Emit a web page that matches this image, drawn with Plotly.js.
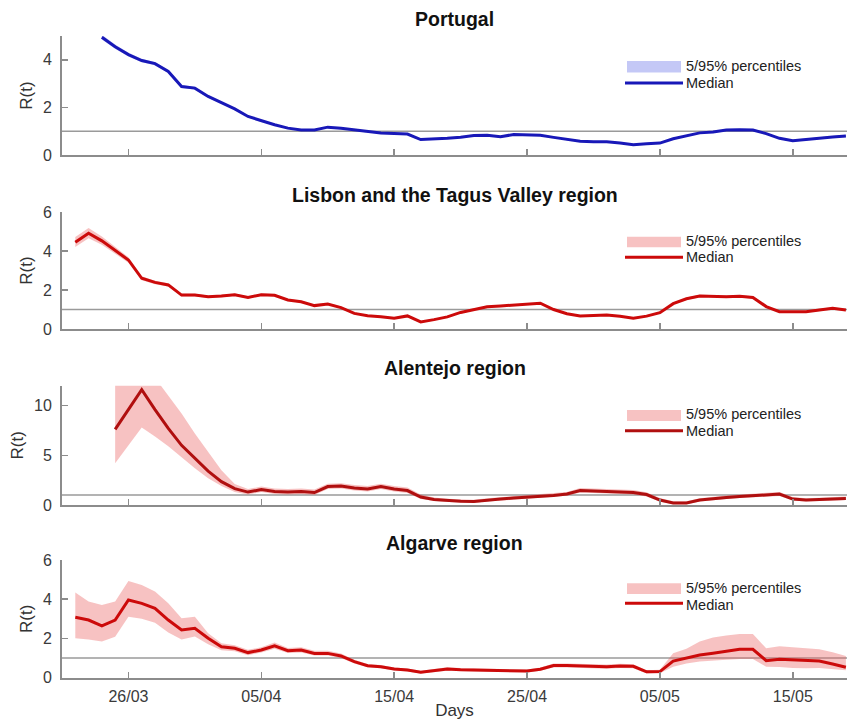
<!DOCTYPE html>
<html><head><meta charset="utf-8">
<script src="https://cdn.plot.ly/plotly-3.0.1.min.js"></script>
<style>html,body{margin:0;padding:0;background:#fff}#chart{width:847px;height:720px}</style>
</head><body><div id="chart"></div>
<script>
// ---------- data ----------
const regionNames = ['Portugal', 'Lisbon and the Tagus Valley region', 'Alentejo region', 'Algarve region'];
const legendLabels = ['5/95% percentiles', 'Median'];
const xTickStart = '2020-03-26';
const startDates = ['2020-03-24', '2020-03-22', '2020-03-25', '2020-03-22'];

const ptMedian = [4.95,4.55,4.22,3.97,3.84,3.51,2.88,2.81,2.46,2.19,1.94,1.62,1.43,1.27,1.13,1.05,1.05,1.17,1.12,1.05,0.98,0.92,0.90,0.88,0.65,0.66,0.70,0.75,0.82,0.83,0.77,0.86,0.85,0.83,0.74,0.66,0.58,0.56,0.56,0.50,0.43,0.47,0.50,0.68,0.82,0.93,0.97,1.05,1.06,1.05,0.90,0.70,0.60,0.66,0.73,0.76,0.80];
const ptLower = [4.85,4.46,4.14,3.90,3.77,3.45,2.82,2.75,2.41,2.14,1.90,1.58,1.39,1.24,1.10,1.02,1.02,1.14,1.09,1.02,0.95,0.89,0.87,0.85,0.62,0.63,0.67,0.72,0.79,0.80,0.74,0.83,0.82,0.80,0.71,0.63,0.55,0.53,0.53,0.47,0.40,0.44,0.47,0.65,0.79,0.90,0.94,1.01,1.02,1.01,0.86,0.66,0.56,0.62,0.69,0.72,0.75];
const ptUpper = [5.05,4.64,4.30,4.04,3.91,3.57,2.94,2.87,2.51,2.24,1.98,1.66,1.47,1.30,1.16,1.08,1.08,1.20,1.15,1.08,1.01,0.95,0.93,0.91,0.68,0.69,0.73,0.78,0.85,0.86,0.80,0.89,0.88,0.86,0.77,0.69,0.61,0.59,0.59,0.53,0.46,0.50,0.53,0.71,0.85,0.96,1.00,1.09,1.10,1.09,0.94,0.74,0.64,0.70,0.77,0.80,0.85];

const lxMedian = [4.45,4.91,4.52,4.05,3.54,2.60,2.39,2.26,1.74,1.74,1.66,1.69,1.76,1.62,1.76,1.73,1.49,1.40,1.20,1.28,1.10,0.80,0.68,0.63,0.55,0.67,0.36,0.48,0.62,0.85,1.00,1.14,1.18,1.23,1.28,1.32,1.00,0.78,0.67,0.70,0.72,0.65,0.55,0.66,0.84,1.30,1.55,1.69,1.67,1.66,1.68,1.62,1.15,0.89,0.88,0.89,0.98,1.06,0.97];
const lxLower = [4.20,4.65,4.32,3.88,3.40,2.50,2.30,2.18,1.67,1.67,1.60,1.63,1.70,1.56,1.70,1.67,1.44,1.35,1.15,1.23,1.05,0.76,0.64,0.59,0.51,0.63,0.32,0.44,0.58,0.81,0.96,1.10,1.14,1.19,1.24,1.28,0.96,0.74,0.63,0.66,0.68,0.61,0.51,0.62,0.79,1.24,1.49,1.63,1.61,1.60,1.62,1.56,1.10,0.84,0.83,0.84,0.92,1.00,0.91];
const lxUpper = [4.72,5.18,4.74,4.22,3.68,2.70,2.48,2.34,1.81,1.81,1.72,1.75,1.82,1.68,1.82,1.79,1.54,1.45,1.25,1.33,1.15,0.84,0.72,0.67,0.59,0.71,0.40,0.52,0.66,0.89,1.04,1.18,1.22,1.27,1.32,1.36,1.04,0.82,0.71,0.74,0.76,0.69,0.59,0.70,0.89,1.36,1.61,1.75,1.73,1.72,1.74,1.68,1.20,0.94,0.93,0.94,1.04,1.12,1.03];

const alMedian = [7.6,9.6,11.6,9.6,7.7,6.0,4.7,3.4,2.35,1.65,1.3,1.55,1.35,1.3,1.35,1.25,1.85,1.9,1.7,1.6,1.85,1.6,1.45,0.8,0.55,0.45,0.38,0.35,0.5,0.6,0.7,0.78,0.85,0.95,1.1,1.45,1.4,1.35,1.3,1.25,1.05,0.5,0.2,0.2,0.5,0.65,0.75,0.85,0.95,1.05,1.1,0.6,0.5,0.55,0.6,0.65];
const alLower = [4.2,6.0,7.8,6.9,5.9,4.8,3.7,2.7,1.9,1.3,1.05,1.3,1.1,1.05,1.1,1.0,1.6,1.65,1.45,1.35,1.6,1.35,1.2,0.6,0.4,0.3,0.25,0.22,0.35,0.45,0.55,0.62,0.68,0.78,0.92,1.25,1.2,1.15,1.1,1.05,0.85,0.35,0.08,0.08,0.35,0.5,0.6,0.7,0.78,0.88,0.9,0.45,0.35,0.4,0.45,0.5];
const alUpper = [13.5,15.0,16.5,12.8,11.0,9.2,7.2,5.3,3.5,2.1,1.6,1.85,1.65,1.6,1.65,1.55,2.15,2.2,2.0,1.9,2.15,1.9,1.75,1.05,0.75,0.62,0.55,0.52,0.68,0.78,0.88,0.97,1.05,1.15,1.32,1.7,1.65,1.6,1.55,1.5,1.28,0.7,0.38,0.38,0.68,0.85,0.95,1.05,1.15,1.25,1.32,0.8,0.68,0.72,0.78,0.85];

const agMedian = [3.08,2.94,2.64,2.94,3.96,3.79,3.54,2.94,2.43,2.52,2.01,1.58,1.50,1.28,1.41,1.63,1.38,1.41,1.24,1.24,1.11,0.82,0.61,0.56,0.44,0.39,0.28,0.35,0.44,0.41,0.39,0.37,0.36,0.35,0.34,0.43,0.62,0.62,0.60,0.58,0.56,0.60,0.58,0.30,0.31,0.85,0.99,1.16,1.25,1.35,1.45,1.45,0.87,0.94,0.91,0.90,0.85,0.70,0.53];
const agLower = [2.01,1.95,1.85,2.09,3.11,3.00,2.80,2.30,1.95,2.10,1.70,1.40,1.35,1.15,1.28,1.48,1.26,1.29,1.13,1.13,1.01,0.73,0.53,0.48,0.37,0.32,0.22,0.28,0.36,0.34,0.32,0.30,0.29,0.28,0.27,0.35,0.52,0.52,0.50,0.48,0.46,0.50,0.48,0.22,0.23,0.56,0.73,0.82,0.88,0.92,0.95,0.95,0.56,0.55,0.50,0.48,0.50,0.45,0.38];
const agUpper = [4.34,3.88,3.71,3.88,4.93,4.73,4.39,3.80,3.03,3.11,2.27,1.75,1.65,1.42,1.55,1.80,1.52,1.55,1.37,1.37,1.23,0.92,0.70,0.65,0.52,0.47,0.35,0.43,0.53,0.50,0.47,0.45,0.44,0.43,0.42,0.52,0.73,0.73,0.71,0.69,0.67,0.71,0.69,0.38,0.40,1.25,1.48,1.84,2.05,2.15,2.23,2.23,1.50,1.60,1.55,1.52,1.45,1.30,1.10];

const referenceLevel = 1;

// ---------- styling ----------
const medians = [ptMedian, lxMedian, alMedian, agMedian];
const lowers = [ptLower, lxLower, alLower, agLower];
const uppers = [ptUpper, lxUpper, alUpper, agUpper];
const lineColors = ['#1818b8', '#cc0a0a', '#b00f0f', '#cc0a0a'];
const bandColors = ['rgba(100,110,232,0.38)', 'rgba(235,95,95,0.38)', 'rgba(235,95,95,0.38)', 'rgba(235,95,95,0.38)'];
const yRanges = [[0, 5], [0, 6], [0, 12], [0, 6]];
const yDticks = [2, 2, 5, 2];
const xRange = ['2020-03-21', '2020-05-19 02:00'];

const W = 847, H = 720;
const px = v => v / W;
const py = v => 1 - v / H;
// pixel extents of each panel [bottom, top]
const panelPx = [[155, 36], [329, 212], [505, 385.7], [677.7, 560]];
const titlePx = [19, 195, 368.5, 543];
// [rect top, rect bottom, line y, text1 y, text2 y]
const legendPx = [[61, 72.5, 83, 65.5, 82.5], [236.7, 247.3, 257.3, 240.5, 257.5], [410, 421, 430.7, 414, 431], [583.3, 594, 603.3, 587.5, 604.5]];

function dayList(start, n) {
  const out = [];
  const t0 = Date.parse(start + 'T00:00:00Z');
  for (let i = 0; i < n; i++) out.push(new Date(t0 + i * 86400000).toISOString().slice(0, 10));
  return out;
}

const FONT = 'Liberation Sans, Arial, Helvetica, sans-serif';
const AX = '#8c8c8c';
const traces = [];
const layout = {
  width: W, height: H,
  margin: {l: 0, r: 0, t: 0, b: 0},
  paper_bgcolor: '#ffffff', plot_bgcolor: '#ffffff',
  showlegend: false,
  font: {family: FONT, color: '#333333'},
  shapes: [], annotations: []
};

for (let i = 0; i < 4; i++) {
  const s = i === 0 ? '' : String(i + 1);
  const xa = 'x' + s, ya = 'y' + s;
  const dates = dayList(startDates[i], medians[i].length);
  traces.push({x: dates, y: lowers[i], xaxis: xa, yaxis: ya, type: 'scatter', mode: 'lines',
    line: {width: 0, color: 'rgba(0,0,0,0)'}, hoverinfo: 'skip', showlegend: false});
  traces.push({x: dates, y: uppers[i], xaxis: xa, yaxis: ya, type: 'scatter', mode: 'lines',
    fill: 'tonexty', fillcolor: bandColors[i], line: {width: 0, color: 'rgba(0,0,0,0)'},
    name: legendLabels[0], showlegend: false});
  traces.push({x: dates, y: medians[i], xaxis: xa, yaxis: ya, type: 'scatter', mode: 'lines',
    line: {width: 3, color: lineColors[i]}, name: legendLabels[1], showlegend: false});

  layout['xaxis' + s] = {
    domain: [px(62), 1], anchor: ya, type: 'date', range: xRange,
    tickmode: 'linear', tick0: xTickStart, dtick: 864000000, tickformat: '%d/%m',
    showticklabels: i === 3, ticks: 'inside', ticklen: 6, tickwidth: 1.5, tickcolor: AX,
    showline: true, linecolor: AX, linewidth: 2, showgrid: false, zeroline: false,
    tickfont: {family: FONT, size: 16, color: '#3a3a3a'}, ticklabelstandoff: 3,
    title: i === 3 ? {text: 'Days', font: {family: FONT, size: 17, color: '#333333'}, standoff: 2} : {text: ''}
  };
  layout['yaxis' + s] = {
    domain: [py(panelPx[i][0]), py(panelPx[i][1])], anchor: xa, range: yRanges[i],
    tickmode: 'linear', tick0: 0, dtick: yDticks[i],
    ticks: 'inside', ticklen: 6, tickwidth: 1.5, tickcolor: AX,
    showline: true, linecolor: AX, linewidth: 2, showgrid: false, zeroline: false,
    tickfont: {family: FONT, size: 16, color: '#3a3a3a'}, ticklabelstandoff: 5,
    title: {text: 'R(t)', font: {family: FONT, size: 17, color: '#333333'}, standoff: 6}
  };
  layout.shapes.push({type: 'line', xref: xa + ' domain', x0: 0, x1: 1, yref: ya, y0: referenceLevel, y1: referenceLevel,
    line: {color: '#9a9a9a', width: 1.5}, layer: 'below'});

  layout.annotations.push({text: '<b>' + regionNames[i] + '</b>', xref: 'paper', yref: 'paper',
    x: px(454.5), y: py(titlePx[i]), xanchor: 'center', yanchor: 'middle', showarrow: false,
    font: {family: FONT, size: 19.5, color: '#111111'}});

  const L = legendPx[i];
  layout.shapes.push({type: 'rect', xref: 'paper', yref: 'paper', x0: px(627), x1: px(681), y0: py(L[1]), y1: py(L[0]),
    fillcolor: bandColors[i], line: {width: 0}});
  layout.shapes.push({type: 'line', xref: 'paper', yref: 'paper', x0: px(625), x1: px(683), y0: py(L[2]), y1: py(L[2]),
    line: {color: lineColors[i], width: 3}});
  layout.annotations.push({text: legendLabels[0], xref: 'paper', yref: 'paper', x: px(685), y: py(L[3]),
    xanchor: 'left', yanchor: 'middle', showarrow: false, borderpad: 0, font: {family: FONT, size: 14.5, color: '#222222'}});
  layout.annotations.push({text: legendLabels[1], xref: 'paper', yref: 'paper', x: px(685), y: py(L[4]),
    xanchor: 'left', yanchor: 'middle', showarrow: false, borderpad: 0, font: {family: FONT, size: 14.5, color: '#222222'}});
}

Plotly.newPlot('chart', traces, layout, {displayModeBar: false, staticPlot: true});
</script>
</body></html>
